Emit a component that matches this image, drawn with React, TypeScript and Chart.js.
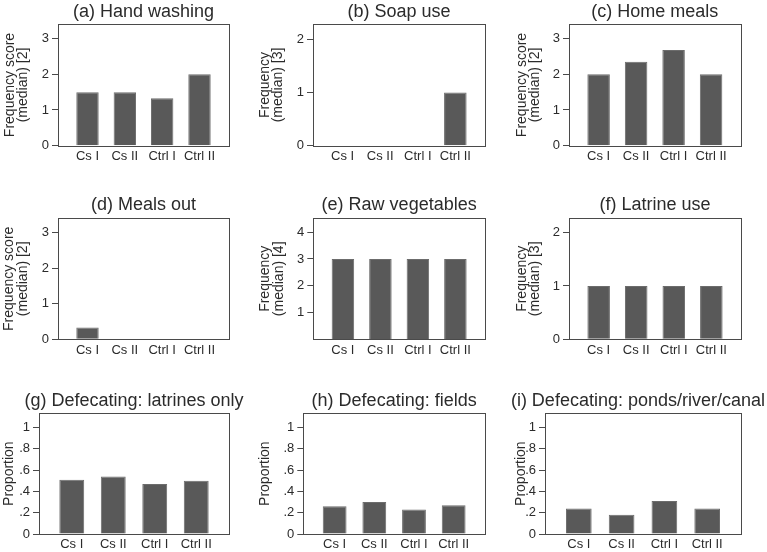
import React, { useEffect, useRef } from "react";
import { Chart, registerables } from "chart.js";

Chart.register(...registerables);

// ---------- data ----------
const categories = ["Cs I", "Cs II", "Ctrl I", "Ctrl II"];

const handWashing = [1.5, 1.5, 1.33, 2];
const soapUse = [0, 0, 0, 1];
const homeMeals = [2, 2.35, 2.68, 2];
const mealsOut = [0.33, 0, 0, 0];
const rawVegetables = [3, 3, 3, 3];
const latrineUse = [1, 1, 1, 1];
const latrinesOnly = [0.51, 0.54, 0.47, 0.5];
const fields = [0.26, 0.3, 0.23, 0.27];
const pondsRiverCanal = [0.24, 0.18, 0.31, 0.24];

const score3Ticks = [0, 1, 2, 3];
const score3TickLabels = ["0", "1", "2", "3"];
const freq2Ticks = [0, 1, 2];
const freq2TickLabels = ["0", "1", "2"];
const freq4Ticks = [1, 2, 3, 4];
const freq4TickLabels = ["1", "2", "3", "4"];
const propTicks = [0, 0.2, 0.4, 0.6, 0.8, 1];
const propTickLabels = ["0", ".2", ".4", ".6", ".8", "1"];

const panelTitles = [
  "(a) Hand washing",
  "(b) Soap use",
  "(c) Home meals",
  "(d) Meals out",
  "(e) Raw vegetables",
  "(f) Latrine use",
  "(g) Defecating: latrines only",
  "(h) Defecating: fields",
  "(i) Defecating: ponds/river/canal",
];

const yTitleScore2 = ["Frequency score", "(median) [2]"];
const yTitleFreq3 = ["Frequency", "(median) [3]"];
const yTitleFreq4 = ["Frequency", "(median) [4]"];
const yTitleProp = ["Proportion"];

// ---------- layout / style ----------
const FONT = "'Liberation Sans', Arial, Helvetica, sans-serif";
const TEXT = "#2b2b2b";
const AXIS = "#4a4a4a";
const BAR = "#595959";
const BAR_EDGE = "#6c6c6c";

const colEdges = [0, 250, 500, 767];
const rowEdges = [0, 180, 365, 552];
const rowGeom = [
  { plotTop: 24.3, plotBottom: 145.7, titleY: 12 },
  { plotTop: 218.3, plotBottom: 339.3, titleY: 205.3 },
  { plotTop: 413.3, plotBottom: 534, titleY: 400.7 },
];

type Panel = {
  title: string;
  yTitle: string[];
  values: number[];
  ticks: number[];
  tickLabels: string[];
  yMax: number;
  row: number;
  col: number;
  plotLeft: number;
  plotRight: number;
  yTitleX: number;
};

const panels: Panel[] = [
  { title: panelTitles[0], yTitle: yTitleScore2, values: handWashing, ticks: score3Ticks, tickLabels: score3TickLabels, yMax: 3.4, row: 0, col: 0, plotLeft: 58, plotRight: 229, yTitleX: 9.7 },
  { title: panelTitles[1], yTitle: yTitleFreq3, values: soapUse, ticks: freq2Ticks, tickLabels: freq2TickLabels, yMax: 2.28, row: 0, col: 1, plotLeft: 313, plotRight: 485, yTitleX: 264.7 },
  { title: panelTitles[2], yTitle: yTitleScore2, values: homeMeals, ticks: score3Ticks, tickLabels: score3TickLabels, yMax: 3.4, row: 0, col: 2, plotLeft: 569, plotRight: 740.7, yTitleX: 522 },
  { title: panelTitles[3], yTitle: yTitleScore2, values: mealsOut, ticks: score3Ticks, tickLabels: score3TickLabels, yMax: 3.4, row: 1, col: 0, plotLeft: 58, plotRight: 229, yTitleX: 9.6 },
  { title: panelTitles[4], yTitle: yTitleFreq4, values: rawVegetables, ticks: freq4Ticks, tickLabels: freq4TickLabels, yMax: 4.52, row: 1, col: 1, plotLeft: 313.3, plotRight: 485, yTitleX: 265.3 },
  { title: panelTitles[5], yTitle: yTitleFreq3, values: latrineUse, ticks: freq2Ticks, tickLabels: freq2TickLabels, yMax: 2.27, row: 1, col: 2, plotLeft: 569, plotRight: 741, yTitleX: 521.7 },
  { title: panelTitles[6], yTitle: yTitleProp, values: latrinesOnly, ticks: propTicks, tickLabels: propTickLabels, yMax: 1.134, row: 2, col: 0, plotLeft: 39, plotRight: 229, yTitleX: 9.5 },
  { title: panelTitles[7], yTitle: yTitleProp, values: fields, ticks: propTicks, tickLabels: propTickLabels, yMax: 1.134, row: 2, col: 1, plotLeft: 303.3, plotRight: 485, yTitleX: 265.3 },
  { title: panelTitles[8], yTitle: yTitleProp, values: pondsRiverCanal, ticks: propTicks, tickLabels: propTickLabels, yMax: 1.134, row: 2, col: 2, plotLeft: 545, plotRight: 741, yTitleX: 521.3 },
];

const TITLE_SIZE = 18;
const YTITLE_SIZE = 14;
const YTITLE_LINE = 13.5;
const TICK_SIZE = 13;
const X_EDGE = 0.79;

const framePlugin = {
  id: "panelFrame",
  afterDatasetsDraw(chart: any) {
    const { ctx, chartArea } = chart;
    const l = Math.round(chartArea.left) + 0.5;
    const t = Math.round(chartArea.top) + 0.5;
    const r = Math.round(chartArea.right) + 0.5;
    const b = Math.round(chartArea.bottom) + 0.5;
    ctx.save();
    ctx.strokeStyle = AXIS;
    ctx.lineWidth = 1;
    ctx.strokeRect(l, t, r - l, b - t);
    ctx.restore();
  },
};

const titlePlugin = {
  id: "panelTitle",
  afterDraw(chart: any, _args: any, opts: any) {
    const { ctx, chartArea, width } = chart;
    ctx.save();
    ctx.font = `${TITLE_SIZE}px ${FONT}`;
    ctx.fillStyle = TEXT;
    ctx.textAlign = "center";
    ctx.textBaseline = "middle";
    const tw = ctx.measureText(opts.text).width;
    let cx = (chartArea.left + chartArea.right) / 2;
    cx = Math.min(cx, width - tw / 2 - 2);
    ctx.fillText(opts.text, cx, opts.y);
    ctx.restore();
  },
};

function PanelChart({ p }: { p: Panel }) {
  const ref = useRef<HTMLCanvasElement | null>(null);
  const cx0 = colEdges[p.col];
  const cx1 = colEdges[p.col + 1];
  const cy0 = rowEdges[p.row];
  const cy1 = rowEdges[p.row + 1];
  const w = cx1 - cx0;
  const h = cy1 - cy0;
  const g = rowGeom[p.row];

  useEffect(() => {
    if (!ref.current) return;
    const chart = new Chart(ref.current, {
      type: "bar",
      data: {
        datasets: [
          {
            data: p.values.map((v, i) => ({ x: i + 1, y: v })),
            backgroundColor: BAR,
            borderColor: BAR_EDGE,
            borderWidth: 1,
            barPercentage: 0.6,
            categoryPercentage: 1,
          },
        ],
      },
      options: {
        animation: false,
        responsive: false,
        devicePixelRatio: 1,
        layout: {
          padding: { top: g.plotTop - cy0, right: cx1 - p.plotRight, bottom: 0, left: 0 },
        },
        plugins: {
          legend: { display: false },
          tooltip: { enabled: false },
          title: { display: false },
          panelTitle: { text: p.title, y: g.titleY - cy0 },
        } as any,
        scales: {
          x: {
            type: "linear",
            min: 1 - X_EDGE,
            max: categories.length + X_EDGE,
            offset: false,
            grid: { display: false, drawTicks: false },
            border: { display: false },
            afterBuildTicks: (scale: any) => {
              scale.ticks = categories.map((_c, i) => ({ value: i + 1 }));
            },
            afterFit: (scale: any) => {
              scale.height = cy1 - g.plotBottom;
            },
            ticks: {
              autoSkip: false,
              maxRotation: 0,
              padding: 3,
              color: TEXT,
              font: { family: FONT, size: TICK_SIZE },
              callback: (v: any) => categories[Math.round(Number(v)) - 1] ?? "",
            },
          },
          y: {
            type: "linear",
            min: 0,
            max: p.yMax,
            grid: {
              display: true,
              drawOnChartArea: false,
              drawTicks: true,
              tickLength: 6,
              color: AXIS,
              lineWidth: 1,
            },
            border: { display: false },
            afterBuildTicks: (scale: any) => {
              scale.ticks = p.ticks.map((v) => ({ value: v }));
            },
            afterFit: (scale: any) => {
              scale.width = p.plotLeft - cx0;
            },
            ticks: {
              padding: 3,
              color: TEXT,
              font: { family: FONT, size: TICK_SIZE },
              callback: (v: any) => {
                const idx = p.ticks.findIndex((t) => Math.abs(t - Number(v)) < 1e-9);
                return idx >= 0 ? p.tickLabels[idx] : "";
              },
            },
            title: {
              display: true,
              text: p.yTitle,
              color: TEXT,
              font: { family: FONT, size: YTITLE_SIZE, lineHeight: `${YTITLE_LINE}px` },
              padding: { top: p.yTitleX - cx0 - YTITLE_LINE / 2, bottom: 0 },
            },
          },
        },
      } as any,
      plugins: [framePlugin, titlePlugin],
    });
    return () => chart.destroy();
  }, []);

  return (
    <canvas
      ref={ref}
      width={w}
      height={h}
      style={{ position: "absolute", left: cx0, top: cy0, width: w, height: h }}
    />
  );
}

export default function App() {
  useEffect(() => {
    document.body.style.margin = "0";
  }, []);
  return (
    <div style={{ position: "relative", width: 767, height: 552, background: "#ffffff", overflow: "hidden" }}>
      {panels.map((p, i) => (
        <PanelChart key={i} p={p} />
      ))}
    </div>
  );
}
